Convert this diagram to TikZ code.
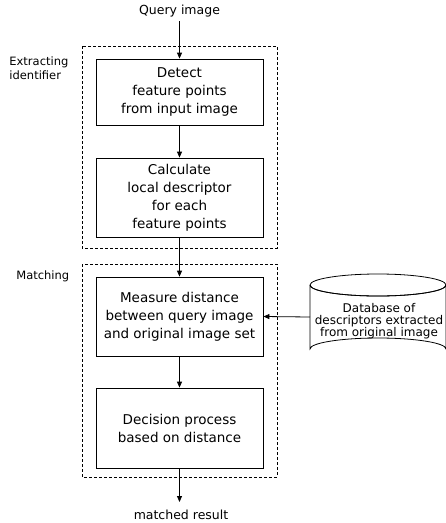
\documentclass[tikz,border=0pt]{standalone}
\usepackage{fontspec}
\setmainfont{DejaVu Sans}
\usetikzlibrary{arrows.meta}
\begin{document}
\begin{tikzpicture}[x=1pt,y=-1pt,
  line width=0.8pt,
  >={Triangle[length=6pt,width=5pt]},
  procbox/.style={draw, minimum width=167pt, align=center, inner sep=0pt,
    font=\fontsize{13.5}{18}\selectfont},
  grp/.style={draw, dashed, dash pattern=on 3pt off 2pt, line width=0.7pt},
  small/.style={font=\fontsize{11.5}{14}\selectfont, inner sep=0pt},
  io/.style={font=\fontsize{12.5}{14}\selectfont, inner sep=0pt},
  dbtext/.style={font=\fontsize{12}{12.2}\selectfont, align=center, inner sep=0pt}]
  \useasboundingbox (0,0) rectangle (446,523);

  % group frames
  \draw[grp] (82,46) rectangle (277,248);
  \draw[grp] (82,264) rectangle (277,477);
  \node[small, align=left, anchor=north west] (lex) at (9,56) {Extracting\\identifier};
  \node[small, anchor=west] (lmt) at (16,276) {Matching};

  % process boxes
  \node[procbox, minimum height=66pt] (det) at (179.5,92) {Detect\\feature points\\from input image};
  \node[procbox, minimum height=79pt] (calc) at (179.5,197.5) {Calculate\\local descriptor\\for each\\feature points};
  \node[procbox, minimum height=79pt] (meas) at (179.5,316.5) {Measure distance\\between query image\\and original image set};
  \node[procbox, minimum height=80pt] (dec) at (179.5,428) {Decision process\\based on distance};

  % input / output labels
  \node[io] (qi) at (179.5,11) {Query image};
  \node[io] (res) at (181,515) {matched result};
  \coordinate (resin) at (179.5,502);

  % database cylinder
  \draw (310,285) -- (310,349) arc[start angle=180, end angle=360, x radius=68, y radius=11]
        -- (446,285) arc[start angle=0, end angle=180, x radius=68, y radius=11];
  \draw (378,285) ellipse[x radius=68, y radius=11];
  \node[dbtext] (db) at (379,321) {Database of\\descriptors extracted\\from original image};
  \coordinate (dbw) at (310,317);

  % connectors
  \draw[->] (qi.south) ++(0,4) coordinate (qis) (qis) -- (det.north);
  \draw[->] (det) -- (calc);
  \draw[->] (calc) -- (meas);
  \draw[->] (meas) -- (dec);
  \draw[->] (dec) -- (resin);
  \draw[->] (dbw) -- (meas.east);
\end{tikzpicture}
\end{document}
